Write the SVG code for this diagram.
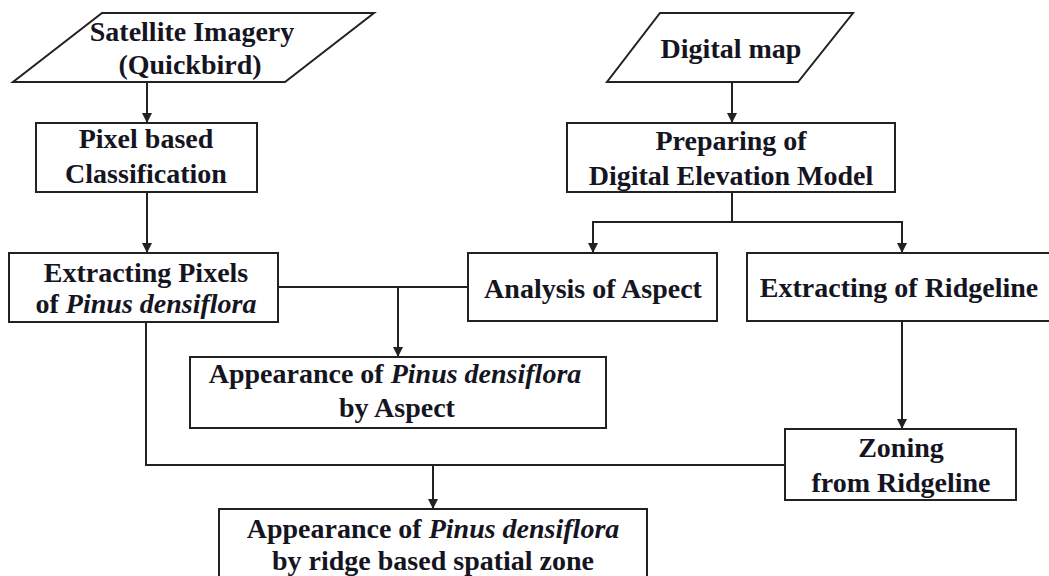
<svg xmlns="http://www.w3.org/2000/svg" width="1049" height="576" viewBox="0 0 1049 576">
<style>
.box{fill:#fff;stroke:#222;stroke-width:2}
.ln{fill:none;stroke:#222;stroke-width:2}
text{font-family:"Liberation Serif","Times New Roman",serif;font-weight:bold;font-size:28px;fill:#15151f;text-anchor:middle}
.it{font-style:italic}
</style>
<defs>
<marker id="ah" viewBox="0 0 10 10" refX="10" refY="5" markerWidth="10" markerHeight="10" markerUnits="userSpaceOnUse" orient="auto">
<path d="M0,0 L10,5 L0,10 z" fill="#222"/>
</marker>
</defs>
<rect width="1049" height="576" fill="#fff"/>
<g id="connectors">
<line class="ln" x1="147" y1="82" x2="147" y2="123" marker-end="url(#ah)"/>
<line class="ln" x1="732" y1="82" x2="732" y2="123" marker-end="url(#ah)"/>
<line class="ln" x1="147" y1="192" x2="147" y2="253" marker-end="url(#ah)"/>
<polyline class="ln" points="732,192 732,222 593,222 593,253" marker-end="url(#ah)"/>
<polyline class="ln" points="732,222 902,222 902,253" marker-end="url(#ah)"/>
<line class="ln" x1="278" y1="287" x2="468" y2="287"/>
<line class="ln" x1="398" y1="287" x2="398" y2="357" marker-end="url(#ah)"/>
<line class="ln" x1="902" y1="321" x2="902" y2="429" marker-end="url(#ah)"/>
<polyline class="ln" points="146,322 146,465 785,465"/>
<line class="ln" x1="433" y1="465" x2="433" y2="509" marker-end="url(#ah)"/>
</g>
<g id="satellite">
<polygon class="box" points="102,13 374,13 285,82 13,82"/>
<text x="192" y="41">Satellite Imagery</text>
<text x="190" y="74">(Quickbird)</text>
</g>
<g id="digitalmap">
<polygon class="box" points="660,13 853,13 798,82 607,82"/>
<text x="731" y="58">Digital map</text>
</g>
<g id="pixel">
<rect class="box" x="36" y="123" width="221" height="69"/>
<text x="146" y="148">Pixel based</text>
<text x="146" y="183">Classification</text>
</g>
<g id="dem">
<rect class="box" x="567" y="123" width="328" height="69"/>
<text x="731" y="150">Preparing of</text>
<text x="731" y="185">Digital Elevation Model</text>
</g>
<g id="extractpixels">
<rect class="box" x="9" y="253" width="269" height="69"/>
<text x="146" y="282">Extracting Pixels</text>
<text x="146" y="313">of <tspan class="it">Pinus densiflora</tspan></text>
</g>
<g id="aspect">
<rect class="box" x="468" y="253" width="249" height="68"/>
<text x="593" y="298">Analysis of Aspect</text>
</g>
<g id="ridgeline">
<rect class="box" x="747" y="253" width="306" height="68"/>
<text x="899" y="297">Extracting of Ridgeline</text>
</g>
<g id="appearaspect">
<rect class="box" x="190" y="357" width="416" height="71"/>
<text x="395" y="383">Appearance of <tspan class="it">Pinus densiflora</tspan></text>
<text x="397" y="417">by Aspect</text>
</g>
<g id="zoning">
<rect class="box" x="785" y="429" width="231" height="71"/>
<text x="901" y="457">Zoning</text>
<text x="901" y="492">from Ridgeline</text>
</g>
<g id="appearzone">
<rect class="box" x="219" y="509" width="428" height="70"/>
<text x="433" y="538">Appearance of <tspan class="it">Pinus densiflora</tspan></text>
<text x="433" y="570">by ridge based spatial zone</text>
</g>
</svg>
